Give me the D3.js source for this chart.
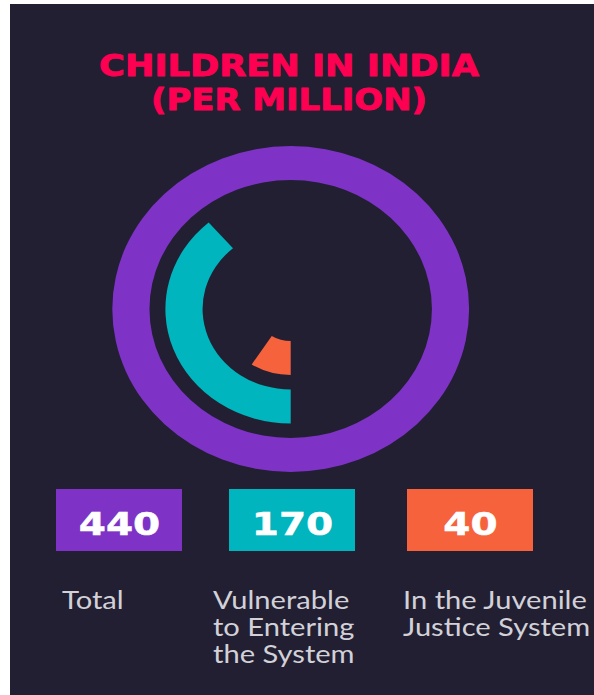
<!DOCTYPE html>
<html>
<head>
<meta charset="utf-8">
<script src="https://cdn.jsdelivr.net/npm/d3@7"></script>
<style>
  html, body { margin: 0; padding: 0; background: #ffffff; }
  svg { display: block; }
</style>
</head>
<body>
<svg id="chart" width="594" height="695"></svg>
<script>
// Children in India, per million
const categories = ["Total", "Vulnerable to Entering the System", "In the Juvenile Justice System"];
const labelLines = [["Total"], ["Vulnerable", "to Entering", "the System"], ["In the Juvenile", "Justice System"]];
const values = [440, 170, 40];
const colors = ["#7e33c6", "#00b5bd", "#f5623c"];
const titleLines = ["CHILDREN IN INDIA", "(PER MILLION)"];

const W = 594, H = 695;
const svg = d3.select("#chart");

// horizontal stretch used by the whole layout
const SX = 1.1;

// dark panel
svg.append("rect")
  .attr("x", 10).attr("y", 4)
  .attr("width", W - 10).attr("height", H - 4)
  .attr("fill", "#221f33");

// place a text centred at (cx, y) and widen it to the given width
function fitText(sel, cx, y, width) {
  const natural = sel.node().getComputedTextLength();
  const k = width / natural;
  sel.attr("x", 0).attr("y", 0)
    .attr("transform", `translate(${cx},${y}) scale(${k},1)`);
}

// title
const headFont = "'DejaVu Sans', 'Noto Sans', sans-serif";
const title = svg.append("g");
const titleWidths = [380, 276];
titleLines.forEach((t, i) => {
  const el = title.append("text")
    .attr("text-anchor", "middle")
    .attr("font-family", headFont)
    .attr("font-weight", "bold")
    .attr("font-size", 31)
    .attr("fill", "#fd0052")
    .attr("stroke", "#fd0052")
    .attr("stroke-width", 0.9)
    .attr("stroke-linejoin", "round")
    .text(t);
  fitText(el, 289, 76 + i * 34, titleWidths[i]);
});

// concentric arcs; radial bands per category, angle from a shared scale
const total = d3.max(values);
const angle = d3.scaleLinear().domain([0, total]).range([Math.PI, 3 * Math.PI]);
const band = d3.scaleBand().domain(categories).range([163, 32]).paddingInner(0.3);

const arc = d3.arc()
  .innerRadius(d => band(d.cat))
  .outerRadius(d => band(d.cat) + band.bandwidth())
  .startAngle(angle(0))
  .endAngle(d => angle(d.value));

const rings = svg.append("g")
  .attr("transform", `translate(290.7,309) scale(${SX * 0.995},1)`);

rings.selectAll("path")
  .data(categories.map((c, i) => ({ cat: c, value: values[i], color: colors[i] })))
  .join("path")
  .attr("d", arc)
  .attr("fill", d => d.color);

// value boxes
const boxX = [56, 229, 407];
const boxW = 126, boxH = 62, boxY = 489;
const boxes = svg.append("g");
values.forEach((v, i) => {
  boxes.append("rect")
    .attr("x", boxX[i]).attr("y", boxY)
    .attr("width", boxW).attr("height", boxH)
    .attr("fill", colors[i]);
  boxes.append("text")
    .attr("text-anchor", "middle")
    .attr("font-family", headFont)
    .attr("font-weight", "bold")
    .attr("font-size", 32)
    .attr("fill", "#ffffff")
    .attr("stroke", "#ffffff")
    .attr("stroke-width", 0.5)
    .attr("transform", `translate(${boxX[i] + boxW / 2 + 0.5},535) scale(1.22,1)`)
    .text(v);
});

// category labels
const labelX = [62, 213, 403];
const labels = svg.append("g");
labelLines.forEach((lines, i) => {
  const t = labels.append("text")
    .attr("transform", `translate(${labelX[i]},0) scale(1.12,1)`)
    .attr("font-family", "Lato, sans-serif")
    .attr("font-size", 26)
    .attr("fill", "#d2d1d8");
  lines.forEach((ln, j) => {
    t.append("tspan")
      .attr("x", 0)
      .attr("y", 609 + j * 27)
      .text(ln);
  });
});
</script>
</body>
</html>
